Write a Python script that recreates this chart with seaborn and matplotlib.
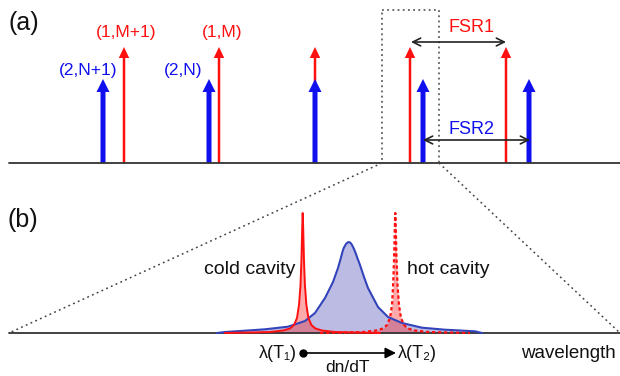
import numpy as np
import pandas as pd
import matplotlib
matplotlib.use('Agg')
import matplotlib.pyplot as plt
import seaborn as sns

sns.set_theme(style='white')
plt.rcParams['font.family'] = ['Liberation Sans', 'DejaVu Sans']

# ---- panel (a): comb of modes (pixel-like coords, y grows downwards)
base_a = 163
red_x = [124, 219, 315, 410, 506]        # family 1 modes
red_h = [116, 116, 116, 116, 116]
blue_x = [103, 209, 315, 423, 529]       # family 2 modes
blue_h = [84, 84, 84, 84, 84]
red_labels = ['(1,M+1)', '(1,M)']
red_label_x = [126, 222]
blue_labels = ['(2,N+1)', '(2,N)']
blue_label_x = [88, 183]

# ---- panel (b): resonance line shapes (x, height above baseline)
base_b = 333
blue_cx = [217, 225, 245, 265, 288, 305, 315, 325, 333, 338, 340, 343, 344, 346, 347,
           348.5, 350, 351, 352, 354, 356, 357, 360, 364, 368, 378, 388, 402, 422, 445, 475, 482]
blue_cy = [0, 1, 2.3, 3.7, 6.3, 12, 20, 35, 51, 65, 72, 83, 85.5, 89, 90,
           91, 90.5, 89.5, 88, 84, 79, 76, 68, 56, 45, 26, 16, 10, 5.3, 3.3, 1.7, 0]

cold_x = [225, 250, 270, 283, 290, 294, 297, 299, 300.5, 301.5, 302.2, 302.7, 303.2,
          303.9, 304.9, 306.4, 308.4, 311.4, 315.4, 322, 335, 355, 380]
cold_y = [0, 0.5, 1, 2.5, 4.5, 8, 15, 28, 48, 75, 105, 120, 105,
          75, 48, 28, 15, 8, 4.5, 2.5, 1, 0.5, 0]

hot_x = [320, 345, 363, 376, 383, 387, 390, 392, 393.1, 394.1, 394.8, 395.3, 395.8,
         396.5, 397.5, 399, 401, 404, 408, 415, 428, 448, 470]
hot_y = [0, 0.5, 1, 2.5, 4.5, 8, 15, 28, 48, 75, 105, 120, 105,
         75, 48, 28, 15, 8, 4.5, 2.5, 1, 0.5, 0]

fig = plt.figure(figsize=(6.2, 3.76), dpi=100)
ax = fig.add_axes([0, 0, 1, 1])
ax.set_xlim(0, 620)
ax.set_ylim(376, 0)
ax.axis('off')

RED = '#ff1010'
BLUE = '#1010ee'

# baselines
sns.lineplot(x=[9, 620], y=[base_a, base_a], ax=ax, color='#333333', lw=1.3)
sns.lineplot(x=[9, 620], y=[base_b, base_b], ax=ax, color='#333333', lw=1.3)

# mode arrows
for x, h in zip(red_x, red_h):
    ax.arrow(x, base_a, 0, -h, width=2.5, head_width=10.5, head_length=11,
             length_includes_head=True, color=RED, lw=0)
for x, h in zip(blue_x, blue_h):
    ax.arrow(x, base_a, 0, -h, width=5, head_width=13, head_length=13,
             length_includes_head=True, color=BLUE, lw=0)

for t, x in zip(red_labels, red_label_x):
    ax.text(x, 33, t, color=RED, fontsize=12.5, ha='center', va='center')
for t, x in zip(blue_labels, blue_label_x):
    ax.text(x, 70, t, color=BLUE, fontsize=12.5, ha='center', va='center')

# FSR arrows
ax.annotate('', xy=(411, 42), xytext=(506, 42),
            arrowprops=dict(arrowstyle='<->', color='#222222', lw=1.2,
                            shrinkA=0, shrinkB=0, mutation_scale=14))
ax.annotate('', xy=(423, 140), xytext=(530, 140),
            arrowprops=dict(arrowstyle='<->', color='#222222', lw=1.2,
                            shrinkA=0, shrinkB=0, mutation_scale=14))
ax.text(472, 27, 'FSR1', color=RED, fontsize=13, ha='center', va='center')
ax.text(472, 129, 'FSR2', color=BLUE, fontsize=13, ha='center', va='center')

# zoom box and projection lines
dot = dict(color='#444444', lw=1.1, linestyle=(0, (1.2, 2.2)))
ax.plot([382, 439, 439, 382, 382], [10, 10, base_a, base_a, 10], **dot)
ax.plot([382, 9], [base_a, base_b], **dot)
ax.plot([439, 620], [base_a, base_b], **dot)

# panel (b) line shapes
blue_df = pd.DataFrame({'x': blue_cx, 'y': [base_b - v for v in blue_cy]})
cold_df = pd.DataFrame({'x': cold_x, 'y': [base_b - v for v in cold_y]})
hot_df = pd.DataFrame({'x': hot_x, 'y': [base_b - v for v in hot_y]})

ax.fill_between(blue_df['x'], base_b, blue_df['y'], color='#3333aa', alpha=0.33, lw=0)
ax.fill_between(cold_df['x'], base_b, cold_df['y'], color='#ff2020', alpha=0.38, lw=0)
ax.fill_between(hot_df['x'], base_b, hot_df['y'], color='#ff2020', alpha=0.38, lw=0)
sns.lineplot(data=blue_df, x='x', y='y', ax=ax, color='#3344bb', lw=1.5, sort=False)
sns.lineplot(data=cold_df, x='x', y='y', ax=ax, color=RED, lw=1.4, sort=False)
sns.lineplot(data=hot_df, x='x', y='y', ax=ax, color=RED, lw=1.6, sort=False,
             linestyle=(0, (1.5, 1.2)))

ax.text(250, 269, 'cold cavity', fontsize=14, ha='center', va='center', color='#111111')
ax.text(448, 269, 'hot cavity', fontsize=14, ha='center', va='center', color='#111111')

# thermal shift arrow
ax.annotate('', xy=(396, 353), xytext=(303, 353),
            arrowprops=dict(arrowstyle='-|>', color='black', lw=1.2,
                            shrinkA=0, shrinkB=0, mutation_scale=16))
ax.plot([303], [353], 'o', color='black', ms=5)
ax.text(297, 353, 'λ(T₁)', fontsize=13, ha='right', va='center', color='#111111')
ax.text(398, 353, 'λ(T₂)', fontsize=13, ha='left', va='center', color='#111111')
ax.text(348, 367, 'dn/dT', fontsize=12.5, ha='center', va='center', color='#111111')
ax.text(568, 353, 'wavelength', fontsize=13.5, ha='center', va='center', color='#111111')

ax.text(24, 23, '(a)', fontsize=18, ha='center', va='center', color='#111111')
ax.text(23, 220, '(b)', fontsize=18, ha='center', va='center', color='#111111')

fig.savefig('out.png', dpi=100)
